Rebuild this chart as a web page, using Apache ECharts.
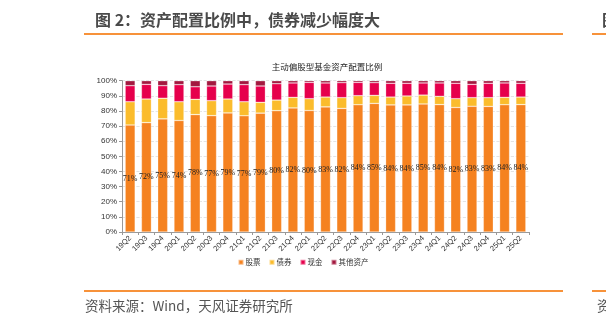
<!DOCTYPE html>
<html><head><meta charset="utf-8">
<script src="https://cdn.jsdelivr.net/npm/echarts@6/dist/echarts.min.js"></script>
<style>html,body{margin:0;padding:0;background:#fff;}#c{width:606px;height:327px;}</style>
</head><body><div id="c"></div>
<script>
const categories = ['19Q2','19Q3','19Q4','20Q1','20Q2','20Q3','20Q4','21Q1','21Q2','21Q3','21Q4','22Q1','22Q2','22Q3','22Q4','23Q1','23Q2','23Q3','23Q4','24Q1','24Q2','24Q3','24Q4','25Q1','25Q2'];
const stocks = [70.7,72.3,74.8,73.7,77.6,76.9,78.7,76.8,78.6,80.2,82.0,80.3,82.7,81.7,84.1,85.0,84.0,84.0,84.6,84.2,82.3,83.1,83.0,84.1,84.2];
const bonds  = [15.4,15.6,13.6,12.4,10.1,9.9,9.2,9.3,7.1,7.0,7.0,7.8,6.5,7.1,6.0,5.3,5.2,5.9,5.9,5.5,5.8,5.7,5.8,4.9,5.0];
const cash   = [10.6,9.7,8.3,11.3,8.3,9.7,9.9,11.3,10.8,10.8,9.5,10.8,9.3,9.9,8.8,8.4,9.1,8.4,8.0,8.8,10.2,8.8,9.5,9.5,9.1];
const others = [3.3,2.4,3.3,2.6,4.0,3.5,2.2,2.6,3.5,2.0,1.5,1.1,1.5,1.3,1.1,1.3,1.7,1.7,1.5,1.5,1.7,2.4,1.7,1.5,1.7];
const seriesNames = ['股票','债券','现金','其他资产'];
const yTicks = [0,10,20,30,40,50,60,70,80,90,100];

const chart = echarts.init(document.getElementById('c'), null, {renderer:'canvas'});
const colors = ['#F58220','#FBBC2C','#E6004C','#A3183F'];
const font = 'Arial, "Liberation Sans", "Noto Sans CJK SC", sans-serif';
const border = {borderColor:'rgba(255,255,255,0.45)', borderWidth:0.6};
chart.setOption({
  animation:false,
  color: colors,
  title:{text:'主动偏股型基金资产配置比例', left:322, textAlign:'center', top:58,
    textStyle:{fontSize:8.5, fontWeight:'normal', color:'#222', fontFamily:'"Noto Sans CJK SC", sans-serif'}},
  grid:{left:122, right:77, top:80.7, bottom:95},
  legend:{bottom:56, left:'center', itemWidth:5, itemHeight:5, itemGap:8, icon:'rect',
    data:seriesNames, textStyle:{fontSize:7.5, color:'#333', fontFamily:'"Noto Sans CJK SC", sans-serif', padding:[0,0,0,-3]}},
  xAxis:{type:'category', data:categories,
    axisLine:{lineStyle:{color:'#999', width:1}},
    axisTick:{show:true, lineStyle:{color:'#999'}, length:3},
    axisLabel:{rotate:45, fontSize:7.5, color:'#333', margin:5, fontFamily:font}},
  yAxis:{type:'value', min:yTicks[0], max:yTicks[yTicks.length-1], interval:10,
    axisLine:{show:true, lineStyle:{color:'#999'}},
    axisTick:{show:true, length:3, lineStyle:{color:'#999'}},
    axisLabel:{formatter:'{value}%', fontSize:8, color:'#333', margin:5, fontFamily:font},
    splitLine:{show:true, lineStyle:{color:'#ddd', type:'dashed', width:0.8}}},
  series:[
    {name:seriesNames[0], type:'bar', stack:'a', data:stocks, barWidth:10, itemStyle:border,
      label:{show:true, position:'inside', formatter:p=>Math.round(p.value)+'%', fontSize:8, color:'#222', fontFamily:'"Liberation Serif", "DejaVu Serif", serif'}},
    {name:seriesNames[1], type:'bar', stack:'a', data:bonds, barWidth:10, itemStyle:border},
    {name:seriesNames[2], type:'bar', stack:'a', data:cash, barWidth:10, itemStyle:border},
    {name:seriesNames[3], type:'bar', stack:'a', data:others, barWidth:10, itemStyle:border}
  ],
  graphic:[
    {type:'text', left:95, top:12, style:{text:'图 2：资产配置比例中，债券减少幅度大', fontSize:16, fontWeight:'bold', fill:'#4a4a4a', fontFamily:'"Noto Sans CJK SC", sans-serif'}},
    {type:'rect', shape:{x:84, y:33, width:479, height:2}, style:{fill:'#F7923A'}},
    {type:'text', left:602, top:12, style:{text:'图', fontSize:16, fontWeight:'bold', fill:'#4a4a4a', fontFamily:'"Noto Sans CJK SC", sans-serif'}},
    {type:'rect', shape:{x:592, y:33, width:20, height:2}, style:{fill:'#F7923A'}},
    {type:'rect', shape:{x:84, y:290, width:479, height:2}, style:{fill:'#F7923A'}},
    {type:'rect', shape:{x:592, y:290, width:20, height:2}, style:{fill:'#F7923A'}},
    {type:'text', left:85, top:299, style:{text:'资料来源：Wind，天风证券研究所', fontSize:13.5, fill:'#555', fontFamily:'"Noto Sans CJK SC", sans-serif'}},
    {type:'text', left:597, top:299, style:{text:'资', fontSize:13.5, fill:'#555', fontFamily:'"Noto Sans CJK SC", sans-serif'}}
  ]
});
</script></body></html>
